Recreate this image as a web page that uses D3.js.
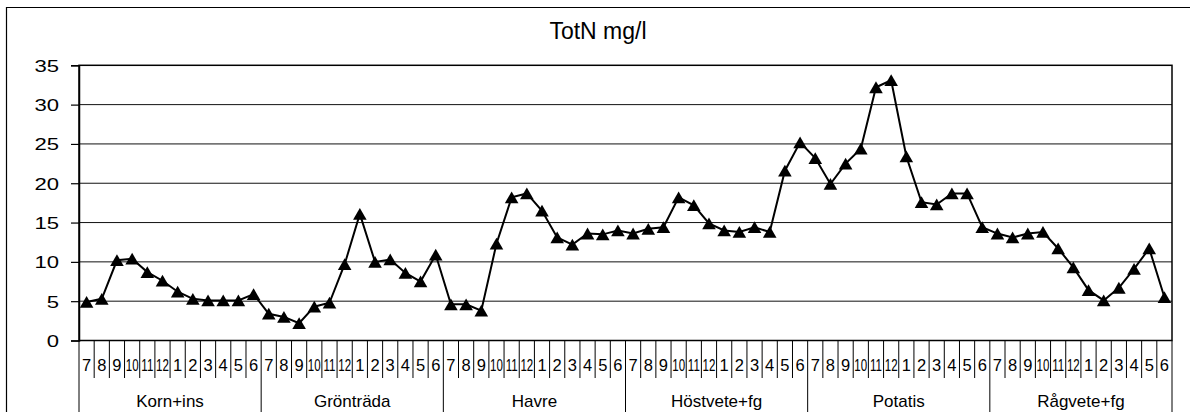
<!DOCTYPE html>
<html><head><meta charset="utf-8">
<script src="https://cdn.jsdelivr.net/npm/d3@7"></script>
<style>html,body{margin:0;padding:0;background:#fff;}svg{display:block;}</style>
</head><body>
<svg id="c" width="1190" height="412"></svg>
<script>
const title = "TotN mg/l";
const groups = ["Korn+ins","Grönträda","Havre","Höstvete+fg","Potatis","Rågvete+fg"];
const months = ["7","8","9","10","11","12","1","2","3","4","5","6"];
const yTicks = [0,5,10,15,20,25,30,35];
const kornIns    = [4.9,5.3,10.2,10.4,8.7,7.6,6.2,5.3,5.1,5.1,5.1,5.9];
const gronTrada  = [3.4,3.0,2.2,4.3,4.8,9.7,16.1,10.0,10.3,8.6,7.5,10.9];
const havre      = [4.6,4.6,3.8,12.3,18.2,18.7,16.5,13.1,12.2,13.6,13.5,14.0];
const hostvete   = [13.6,14.2,14.4,18.2,17.2,14.9,14.0,13.8,14.4,13.8,21.6,25.2];
const potatis    = [23.2,19.9,22.5,24.4,32.2,33.1,23.4,17.6,17.3,18.7,18.7,14.4];
const ragvete    = [13.6,13.1,13.6,13.8,11.7,9.3,6.4,5.1,6.7,9.1,11.7,5.5];

const series = [kornIns,gronTrada,havre,hostvete,potatis,ragvete];
const data = [];
series.forEach((s,gi)=>s.forEach((v,mi)=>data.push({g:gi,m:mi,i:gi*12+mi,v})));

const svg = d3.select("#c");
const L=79,R=1172,T=65.3,B=340.5;
const x = d3.scaleBand().domain(d3.range(data.length)).range([L,R]).paddingInner(0).paddingOuter(0);
const y = d3.scaleLinear().domain([0,35]).range([B,T]);
const font = "'Liberation Sans', Arial, sans-serif";

// outer chart border (top & left visible)
svg.append("path").attr("d","M6.5,412 V7.5 H1190").attr("fill","none").attr("stroke","#000").attr("stroke-width",1.2);

// title
svg.append("text").attr("x",598).attr("y",39).attr("text-anchor","middle")
  .attr("font-family",font).attr("font-size",23).text(title);

// gridlines
svg.append("g").selectAll("line").data(yTicks.filter(d=>d>0&&d<35)).join("line")
  .attr("x1",L).attr("x2",R).attr("y1",d=>y(d)).attr("y2",d=>y(d))
  .attr("stroke","#111").attr("stroke-width",1);

// plot border
svg.append("rect").attr("x",L).attr("y",T).attr("width",R-L).attr("height",B-T)
  .attr("fill","none").attr("stroke","#000").attr("stroke-width",1.5);

// y axis
const ya = svg.append("g").attr("transform",`translate(${L},0)`)
  .call(d3.axisLeft(y).tickValues(yTicks).tickSize(8).tickPadding(12).tickFormat(d3.format("d")));
ya.select(".domain").attr("stroke","#000").attr("stroke-width",1.5);
ya.selectAll(".tick line").attr("stroke","#000").attr("stroke-width",1.2);
ya.selectAll(".tick text").attr("font-family",font).attr("font-size",17).attr("fill","#000")
  .attr("x",null).attr("dy","0.35em")
  .attr("transform","translate(-20,0) scale(1.3,1)");

// month separators
const xa = svg.append("g");
xa.selectAll("line.m").data(d3.range(data.length+1)).join("line").attr("class","m")
  .attr("x1",i=> i<data.length? x(i): R).attr("x2",i=> i<data.length? x(i): R)
  .attr("y1",B).attr("y2",i=> i%12===0 ? 412 : 378)
  .attr("stroke","#000").attr("stroke-width",1);

// month labels (two-digit labels squeezed horizontally like the original)
xa.selectAll("text.m").data(data).join("text").attr("class","m")
  .attr("transform",d=>{
    const t=months[d.m], px=x(d.i)+x.bandwidth()/2;
    return `translate(${px},370.5)` + (t.length>1 ? " scale(0.7,1)" : "");
  })
  .attr("text-anchor","middle")
  .attr("font-family",font).attr("font-size",16.5).attr("fill","#000")
  .text(d=>months[d.m]);

// group labels
xa.selectAll("text.g").data(groups).join("text").attr("class","g")
  .attr("x",(d,gi)=> (x(gi*12) + (gi===5? R : x(gi*12+12)))/2 ).attr("y",407)
  .attr("text-anchor","middle").attr("font-family",font).attr("font-size",17).text(d=>d);

// line
const cx = d=>x(d.i)+x.bandwidth()/2;
svg.append("path").datum(data)
  .attr("d",d3.line().x(cx).y(d=>y(d.v)))
  .attr("fill","none").attr("stroke","#000").attr("stroke-width",2);

// markers
svg.append("g").selectAll("path").data(data).join("path")
  .attr("transform",d=>`translate(${cx(d)},${y(d.v)+1.9})`)
  .attr("d",d3.symbol(d3.symbolTriangle,80))
  .attr("fill","#000");
</script>
</body></html>
